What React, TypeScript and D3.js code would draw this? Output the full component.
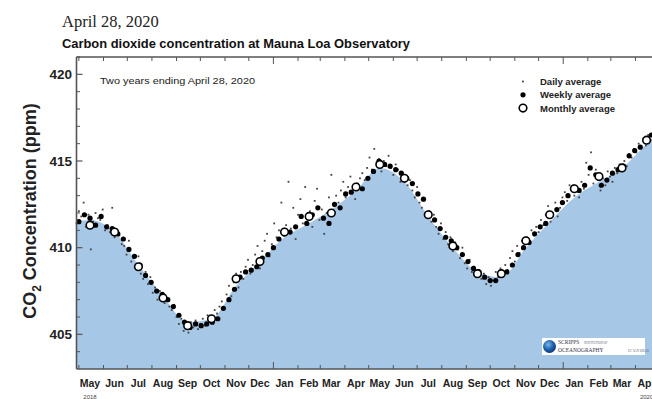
import React from 'react';
import * as d3 from 'd3';

// ---------- data ----------
const startDate = new Date(2018, 3, 28);
const endDate = new Date(2020, 3, 28);

const monthLabels = ["May","Jun","Jul","Aug","Sep","Oct","Nov","Dec","Jan","Feb","Mar","Apr",
  "May","Jun","Jul","Aug","Sep","Oct","Nov","Dec","Jan","Feb","Mar","Apr"];
const yMajorTicks = [405, 410, 415, 420];
const yMinorTicks = [404,406,407,408,409,411,412,413,414,416,417,418,419,421];

// Monthly averages (mid-month, May 2018 .. Apr 2020)
const monthlyValues = [411.3,410.9,408.9,407.1,405.5,405.9,408.2,409.2,410.9,411.8,412.0,413.5,
  414.8,414.0,411.9,410.1,408.5,408.5,410.4,411.9,413.4,414.1,414.6,416.2];

// Seasonal fit curve (mid-month knots, plus both ends of the period)
const fitValues = [411.5,411.6,410.9,409.0,407.2,405.7,405.9,407.8,409.2,410.6,411.4,412.2,413.3,
  414.6,413.8,411.8,410.0,408.6,408.3,410.0,411.5,412.9,413.8,414.6,416.0,416.6];

// Weekly averages (one per week from Apr 28, 2018)
const weeklyValues = [411.5,411.9,411.7,411.3,411.8,411.2,411.1,410.8,410.5,409.9,
  409.5,409.0,408.4,408.0,407.5,407.3,407.0,406.6,406.1,405.7,
  405.4,405.6,405.5,405.6,405.7,405.9,406.5,407.0,407.6,408.3,
  408.6,408.7,408.9,409.4,409.6,410.0,410.5,411.0,410.9,411.2,
  411.8,411.4,411.9,412.3,411.7,411.4,412.5,412.3,413.1,413.2,
  413.6,413.4,414.0,414.4,415.0,414.8,414.7,414.5,414.3,414.0,
  413.7,413.1,412.8,412.0,411.6,411.1,410.6,410.4,410.0,409.6,
  409.2,408.8,408.6,408.3,408.1,408.1,408.4,408.6,409.0,409.6,
  410.0,410.3,410.8,411.2,411.4,411.9,412.2,412.6,413.0,413.5,
  413.3,413.6,414.6,414.2,413.6,413.9,414.3,414.5,414.7,415.3,
  415.6,415.8,416.2,416.5,416.8];

// Daily averages (every third day from Apr 28, 2018)
const dailyValues = [411.4,412.1,411.8,412.6,411.2,411.9,409.9,411.5,412.0,411.7,
  411.6,412.2,411.0,411.3,410.9,412.3,410.6,411.0,410.7,410.2,
  410.1,409.6,410.4,409.2,409.4,408.9,409.5,408.5,408.2,408.6,
  407.9,408.3,407.4,407.7,407.0,407.5,407.2,406.8,407.1,406.6,
  406.4,406.7,406.0,405.6,405.9,405.2,405.5,405.1,405.7,405.4,
  405.8,405.3,405.6,405.9,405.5,406.1,405.7,406.0,406.4,406.2,
  406.6,406.9,406.5,407.3,407.8,407.2,408.0,408.5,407.7,408.6,
  408.2,408.9,409.3,408.5,409.0,409.6,410.1,408.8,409.8,410.4,
  410.8,409.5,410.2,411.4,410.6,411.0,412.6,410.7,411.3,413.8,
  411.1,412.3,410.5,411.9,412.8,411.4,413.5,411.8,412.1,411.2,
  412.7,413.4,411.6,412.2,410.8,412.0,412.9,414.2,412.4,413.0,
  412.6,413.3,413.8,412.9,413.5,414.1,413.2,412.8,413.7,414.0,
  414.3,413.9,414.6,415.2,414.5,415.7,414.9,415.1,414.4,415.0,
  414.7,415.3,414.6,414.2,414.8,414.5,413.8,414.3,414.0,413.6,
  413.9,413.3,412.9,413.5,412.6,412.3,412.8,411.8,412.1,411.5,
  411.9,411.2,410.8,411.4,410.5,410.9,410.2,410.6,409.8,410.3,
  409.9,409.4,410.0,409.1,408.8,409.3,408.6,408.9,408.4,408.7,
  408.2,408.5,407.9,408.3,407.8,408.1,408.6,408.3,408.8,408.5,
  409.0,408.7,409.4,409.8,409.2,410.1,409.7,410.4,410.0,410.6,
  410.3,411.0,410.7,411.2,410.9,411.6,411.3,411.9,412.4,411.5,
  412.0,412.6,411.8,412.3,412.9,413.2,412.7,413.6,413.3,413.0,
  413.5,412.9,413.8,413.4,414.9,414.2,415.5,413.7,414.5,413.9,
  413.3,414.0,413.6,414.4,414.1,413.8,414.6,414.3,414.8,414.5,
  415.0,414.7,415.4,415.2,415.7,415.5,416.0,415.8,416.3,415.9,
  416.5,416.2,416.9,416.6];

const legendItems = ["Daily average", "Weekly average", "Monthly average"];

// ---------- layout ----------
const W = 652, H = 399;
const plotLeft = 76.5, plotTop = 57, plotBottom = 369;
const plotRight = 76.5 + 731 * 0.794;

const x = d3.scaleTime().domain([startDate, endDate]).range([plotLeft, plotRight]);
const y = d3.scaleLinear().domain([403, 421]).range([plotBottom, plotTop]);

const monthStarts = d3.timeMonth.range(new Date(2018, 4, 1), new Date(2020, 5, 1));
const monthMids = monthLabels.map((_, i) => new Date(2018, 4 + i, 15));

const fitDates = [startDate, ...monthMids, endDate];
const fitPts: [Date, number][] = fitDates.map((d, i) => [d, fitValues[i]]);

const area = d3.area<[Date, number]>()
  .x(d => x(d[0]))
  .y0(plotBottom)
  .y1(d => y(d[1]))
  .curve(d3.curveMonotoneX);

const weeklyPts = weeklyValues.map((v, i) => ({ d: d3.timeDay.offset(startDate, 7 * i + 3), v }));
const dailyPts = dailyValues.map((v, i) => ({ d: d3.timeDay.offset(startDate, 3 * i), v }));
const monthlyPts = monthlyValues.map((v, i) => ({ d: monthMids[i], v }));

const SANS = "'Liberation Sans', Arial, Helvetica, sans-serif";
const SERIF = "'Liberation Serif', 'Times New Roman', serif";
const AXIS = "#555";

export default function App() {
  return (
    <svg width={W} height={H} style={{ position: 'absolute', left: 0, top: 0, background: '#fff' }}>
      <defs>
        <radialGradient id="globe" cx="40%" cy="35%" r="70%">
          <stop offset="0%" stopColor="#7fb6e6" />
          <stop offset="55%" stopColor="#1d63b0" />
          <stop offset="100%" stopColor="#0b2f6e" />
        </radialGradient>
      </defs>

      {/* headings */}
      <text x={62} y={27} fontFamily={SERIF} fontSize={16.5} fill="#222">April 28, 2020</text>
      <text x={62} y={48} fontFamily={SANS} fontWeight="bold" fontSize={12.5} fill="#111"
        textLength={348} lengthAdjust="spacingAndGlyphs">Carbon dioxide concentration at Mauna Loa Observatory</text>

      {/* area */}
      <path d={area(fitPts) || ''} fill="#a7c7e7" />

      {/* daily */}
      {dailyPts.map((p, i) => (
        <rect key={'d' + i} x={x(p.d) - 0.9} y={y(p.v) - 0.9} width={1.8} height={1.8} fill="#444" />
      ))}
      {/* weekly */}
      {weeklyPts.map((p, i) => (
        <circle key={'w' + i} cx={x(p.d)} cy={y(p.v)} r={2.6} fill="#000" />
      ))}
      {/* monthly */}
      {monthlyPts.map((p, i) => (
        <circle key={'m' + i} cx={x(p.d)} cy={y(p.v)} r={3.8} fill="#fff" stroke="#000" strokeWidth={1.6} />
      ))}

      {/* frame */}
      <line x1={plotLeft} x2={plotRight} y1={plotTop} y2={plotTop} stroke={AXIS} strokeWidth={1.6} />
      <line x1={plotLeft} x2={plotRight} y1={plotBottom} y2={plotBottom} stroke={AXIS} strokeWidth={1.6} />
      <line x1={plotLeft} x2={plotLeft} y1={plotTop} y2={plotBottom} stroke={AXIS} strokeWidth={1.6} />

      {/* x ticks */}
      {monthStarts.map((d, i) => {
        const len = d.getMonth() === 0 ? 7 : 4;
        return (
          <g key={'xt' + i}>
            <line x1={x(d)} x2={x(d)} y1={plotBottom} y2={plotBottom - len} stroke={AXIS} strokeWidth={1} />
            <line x1={x(d)} x2={x(d)} y1={plotTop} y2={plotTop + len} stroke={AXIS} strokeWidth={1} />
          </g>
        );
      })}
      {monthMids.map((d, i) => (
        <text key={'xl' + i} x={x(d)} y={387} textAnchor="middle" fontFamily={SANS} fontWeight="bold"
          fontSize={10.5} fill="#222">{monthLabels[i]}</text>
      ))}
      <text x={x(monthMids[0])} y={399} textAnchor="middle" fontFamily={SANS} fontSize={6} fill="#444">2018</text>
      <text x={x(monthMids[23])} y={399} textAnchor="middle" fontFamily={SANS} fontSize={6} fill="#444">2020</text>

      {/* y ticks */}
      {yMajorTicks.map(v => (
        <g key={'ym' + v}>
          <line x1={plotLeft} x2={plotLeft + 6} y1={y(v)} y2={y(v)} stroke={AXIS} strokeWidth={1.2} />
          <text x={72} y={y(v) + 4.8} textAnchor="end" fontFamily={SANS} fontWeight="bold" fontSize={13.5} fill="#222">{v}</text>
        </g>
      ))}
      {yMinorTicks.map(v => (
        <line key={'yn' + v} x1={plotLeft} x2={plotLeft + 3.5} y1={y(v)} y2={y(v)} stroke={AXIS} strokeWidth={1} />
      ))}

      {/* y label */}
      <text transform="translate(36,211) rotate(-90)" textAnchor="middle" fontFamily={SANS} fontWeight="bold"
        fontSize={18} fill="#222">
        CO<tspan fontSize={12} dy={5}>2</tspan><tspan dy={-5}> Concentration (ppm)</tspan>
      </text>

      {/* subtitle */}
      <text x={100} y={84} fontFamily={SANS} fontSize={9.5} fill="#222" textLength={155}
        lengthAdjust="spacingAndGlyphs">Two years ending April 28, 2020</text>

      {/* legend */}
      {legendItems.map((t, i) => {
        const cy = 81.5 + i * 13.3;
        return (
          <g key={'lg' + i}>
            {i === 0 && <rect x={522} y={cy - 0.9} width={1.8} height={1.8} fill="#444" />}
            {i === 1 && <circle cx={523} cy={cy} r={2.6} fill="#000" />}
            {i === 2 && <circle cx={523} cy={cy} r={3.8} fill="#fff" stroke="#000" strokeWidth={1.6} />}
            <text x={540} y={cy + 3.5} fontFamily={SANS} fontWeight="bold" fontSize={9.5} fill="#222">{t}</text>
          </g>
        );
      })}

      {/* logo */}
      <rect x={542} y={338} width={103} height={17} fill="#fff" />
      <circle cx={549.5} cy={346.5} r={6.5} fill="url(#globe)" />
      <text x={558} y={344} fontFamily={SERIF} fontSize={5.5} fill="#334">SCRIPPS</text>
      <text x={584} y={344} fontFamily={SERIF} fontSize={3} fill="#667">INSTITUTION OF</text>
      <text x={558} y={352} fontFamily={SERIF} fontSize={5.5} fill="#334">OCEANOGRAPHY</text>
      <text x={628} y={352} fontFamily={SERIF} fontSize={3} fill="#667">UC SAN DIEGO</text>
    </svg>
  );
}
